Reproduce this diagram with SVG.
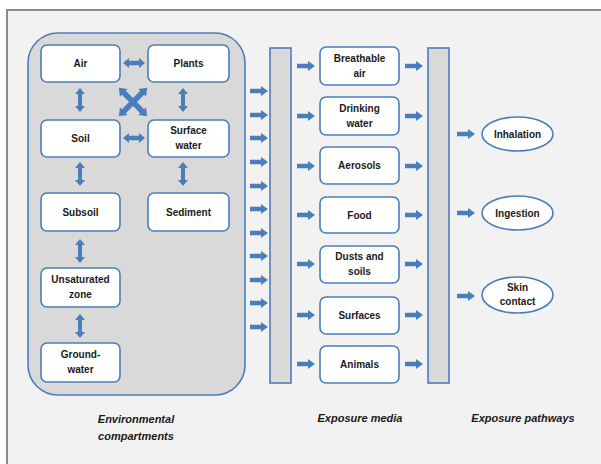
<svg xmlns="http://www.w3.org/2000/svg" xmlns:xlink="http://www.w3.org/1999/xlink" width="601" height="464" viewBox="0 0 601 464">
<style>
.box{fill:#ffffff;stroke:#4a7ebb;stroke-width:1.6}
.bar{fill:#d9d9d9;stroke:#4a7ebb;stroke-width:1.6}
.t{font-family:"Liberation Sans",Arial,sans-serif;font-weight:bold;font-size:10px;fill:#1a1a1a;text-anchor:middle}
.cap{font-family:"Liberation Sans",Arial,sans-serif;font-weight:bold;font-style:italic;font-size:11px;fill:#1a1a1a;text-anchor:middle}
.ar{fill:#4a7ebb}
</style>
<defs>
<path id="ra" d="M0,-2.2 H11 V-5 L18,0 L11,5 V2.2 H0 Z"/>
<path id="dh" d="M-11,0 L-5,-5 V-2.2 H5 V-5 L11,0 L5,5 V2.2 H-5 V5 Z"/>
<path id="dv" d="M0,-12 L-5,-6 H-2 V6 H-5 L0,12 L5,6 H2 V-6 H5 Z"/>
<path id="dd" d="M-20,0 L-13,-5.5 V-2.8 H13 V-5.5 L20,0 L13,5.5 V2.8 H-13 V5.5 Z"/>
</defs>
<rect x="0" y="0" width="601" height="464" fill="#ffffff"/>
<rect x="7" y="10" width="600" height="460" fill="#f2f2f2" stroke="#8a8a8a" stroke-width="2"/>

<g id="env-container">
<rect x="28" y="33" width="217" height="362" rx="30" fill="#d9d9d9" stroke="#4a7ebb" stroke-width="1.6"/>
</g>

<g id="air"><rect class="box" x="41" y="45" width="79" height="37" rx="6"/><text class="t" x="80.5" y="67">Air</text></g>
<g id="plants"><rect class="box" x="148" y="45" width="81" height="37" rx="6"/><text class="t" x="188.5" y="67">Plants</text></g>
<g id="soil"><rect class="box" x="41" y="120" width="79" height="37" rx="6"/><text class="t" x="80.5" y="142">Soil</text></g>
<g id="surface-water"><rect class="box" x="148" y="120" width="81" height="37" rx="6"/><text class="t" x="188.5" y="134">Surface</text><text class="t" x="188.5" y="149">water</text></g>
<g id="subsoil"><rect class="box" x="41" y="193" width="79" height="38" rx="6"/><text class="t" x="80.5" y="216">Subsoil</text></g>
<g id="sediment"><rect class="box" x="148" y="193" width="81" height="38" rx="6"/><text class="t" x="188.5" y="216">Sediment</text></g>
<g id="unsaturated-zone"><rect class="box" x="41" y="268" width="79" height="39" rx="6"/><text class="t" x="80.5" y="283">Unsaturated</text><text class="t" x="80.5" y="298">zone</text></g>
<g id="groundwater"><rect class="box" x="41" y="343" width="79" height="39" rx="6"/><text class="t" x="80.5" y="358">Ground-</text><text class="t" x="80.5" y="373">water</text></g>

<g id="bar1"><rect class="bar" x="270" y="48" width="21" height="335"/></g>

<g id="breathable-air"><rect class="box" x="320" y="47" width="79" height="38" rx="6"/><text class="t" x="359.5" y="62">Breathable</text><text class="t" x="359.5" y="77">air</text></g>
<g id="drinking-water"><rect class="box" x="320" y="97" width="79" height="38" rx="6"/><text class="t" x="359.5" y="112">Drinking</text><text class="t" x="359.5" y="127">water</text></g>
<g id="aerosols"><rect class="box" x="320" y="147" width="79" height="37" rx="6"/><text class="t" x="359.5" y="169">Aerosols</text></g>
<g id="food"><rect class="box" x="320" y="197" width="79" height="36" rx="6"/><text class="t" x="359.5" y="219">Food</text></g>
<g id="dusts-and-soils"><rect class="box" x="320" y="246" width="79" height="37" rx="6"/><text class="t" x="359.5" y="260">Dusts and</text><text class="t" x="359.5" y="275">soils</text></g>
<g id="surfaces"><rect class="box" x="320" y="297" width="79" height="37" rx="6"/><text class="t" x="359.5" y="319">Surfaces</text></g>
<g id="animals"><rect class="box" x="320" y="346" width="79" height="37" rx="6"/><text class="t" x="359.5" y="368">Animals</text></g>

<g id="bar2"><rect class="bar" x="428" y="48" width="21" height="335"/></g>

<g id="inhalation"><ellipse class="box" cx="517.5" cy="134" rx="35.5" ry="17"/><text class="t" x="517.5" y="137.5">Inhalation</text></g>
<g id="ingestion"><ellipse class="box" cx="517.5" cy="213" rx="35.5" ry="17"/><text class="t" x="517.5" y="216.5">Ingestion</text></g>
<g id="skin-contact"><ellipse class="box" cx="517.5" cy="295" rx="35.5" ry="18"/><text class="t" x="517.5" y="291">Skin</text><text class="t" x="517.5" y="305">contact</text></g>

<g id="connectors" class="ar">
<use href="#dh" x="134" y="63"/>
<use href="#dh" x="134" y="138"/>
<use href="#dv" x="80" y="100"/>
<use href="#dv" x="183" y="100"/>
<use href="#dv" x="80" y="174"/>
<use href="#dv" x="183" y="174"/>
<use href="#dv" x="80" y="251"/>
<use href="#dv" x="80" y="326"/>
<use href="#dd" transform="translate(133,102) rotate(45)"/>
<use href="#dd" transform="translate(133,102) rotate(-45)"/>

<use href="#ra" x="250" y="91"/>
<use href="#ra" x="250" y="115"/>
<use href="#ra" x="250" y="138"/>
<use href="#ra" x="250" y="162"/>
<use href="#ra" x="250" y="186"/>
<use href="#ra" x="250" y="209"/>
<use href="#ra" x="250" y="233"/>
<use href="#ra" x="250" y="256"/>
<use href="#ra" x="250" y="280"/>
<use href="#ra" x="250" y="303"/>
<use href="#ra" x="250" y="327"/>

<use href="#ra" x="297" y="66"/>
<use href="#ra" x="297" y="116"/>
<use href="#ra" x="297" y="166"/>
<use href="#ra" x="297" y="215"/>
<use href="#ra" x="297" y="264"/>
<use href="#ra" x="297" y="315"/>
<use href="#ra" x="297" y="364"/>

<use href="#ra" x="405" y="66"/>
<use href="#ra" x="405" y="116"/>
<use href="#ra" x="405" y="166"/>
<use href="#ra" x="405" y="215"/>
<use href="#ra" x="405" y="264"/>
<use href="#ra" x="405" y="315"/>
<use href="#ra" x="405" y="364"/>

<use href="#ra" x="457" y="134"/>
<use href="#ra" x="457" y="213"/>
<use href="#ra" x="457" y="296"/>
</g>

<g id="captions">
<text class="cap" x="136" y="423">Environmental</text>
<text class="cap" x="136" y="440">compartments</text>
<text class="cap" x="360" y="422">Exposure media</text>
<text class="cap" x="523" y="422">Exposure pathways</text>
</g>
</svg>
